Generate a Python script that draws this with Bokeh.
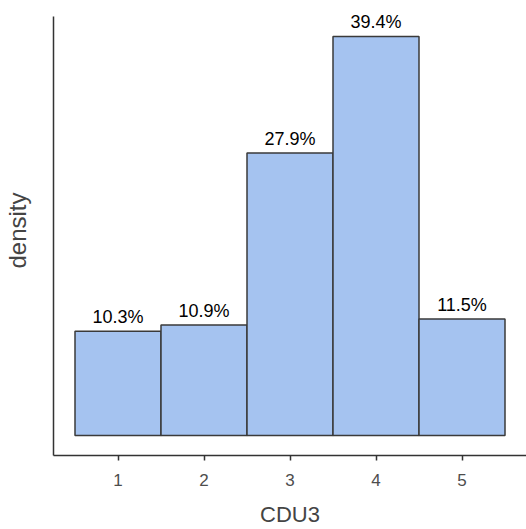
from bokeh.plotting import figure
from bokeh.models import Range1d, FixedTicker, ColumnDataSource, LabelSet
from bokeh.embed import file_html
from bokeh.resources import INLINE
from bokeh.core.properties import value

# data
categories = [1, 2, 3, 4, 5]
density = [0.103, 0.109, 0.279, 0.394, 0.115]
labels = ["10.3%", "10.9%", "27.9%", "39.4%", "11.5%"]
x_ticks = [1, 2, 3, 4, 5]

FONT = "Liberation Sans"
Y_LO, Y_AXIS_HI, Y_HI = -0.0197, 0.4137, 0.4245

src = ColumnDataSource(dict(
    left=[c - 0.5 for c in categories],
    right=[c + 0.5 for c in categories],
    x=categories,
    top=density,
    bottom=[0] * len(categories),
    label=labels,
))

p = figure(width=526, height=529, output_backend="svg", toolbar_location=None,
           x_range=Range1d(0.25, 5.75), y_range=Range1d(Y_LO, Y_HI),
           min_border_left=53, min_border_right=0, min_border_top=5,
           min_border_bottom=71)

p.quad(left="left", right="right", top="top", bottom="bottom", source=src,
       fill_color="#A5C3F0", line_color="#3a3a3a", line_width=1.5)

labs = LabelSet(x="x", y="top", text="label", source=src, text_align="center",
                text_baseline="bottom", y_offset=4, text_font=value(FONT),
                text_font_size="18px", text_color="black")
p.add_layout(labs)

p.outline_line_color = None
p.xgrid.visible = False
p.ygrid.visible = False
p.background_fill_color = "white"
p.border_fill_color = "white"

xa = p.xaxis[0]
xa.ticker = FixedTicker(ticks=x_ticks)
xa.axis_label = "CDU3"
xa.axis_label_text_font = FONT
xa.axis_label_text_font_size = "22px"
xa.axis_label_text_font_style = "normal"
xa.axis_label_text_color = "#444444"
xa.axis_label_standoff = 13
xa.major_label_text_font = FONT
xa.major_label_text_font_size = "17px"
xa.major_label_text_color = "#4d4d4d"
xa.major_label_standoff = 13
xa.major_tick_in = 0
xa.major_tick_out = 5
xa.major_tick_line_color = "#333333"
xa.major_tick_line_width = 1.5
xa.minor_tick_line_color = None
xa.axis_line_color = "#333333"
xa.axis_line_width = 1.5

ya = p.yaxis[0]
ya.ticker = FixedTicker(ticks=[])
ya.bounds = (Y_LO, Y_AXIS_HI)
ya.axis_label = "density"
ya.axis_label_text_font = FONT
ya.axis_label_text_font_size = "24px"
ya.axis_label_text_font_style = "normal"
ya.axis_label_text_color = "#444444"
ya.axis_label_standoff = 23
ya.major_label_standoff = 0
ya.major_tick_line_color = None
ya.minor_tick_line_color = None
ya.axis_line_color = "#333333"
ya.axis_line_width = 1.5

open("out.html", "w").write(file_html(p, INLINE))
